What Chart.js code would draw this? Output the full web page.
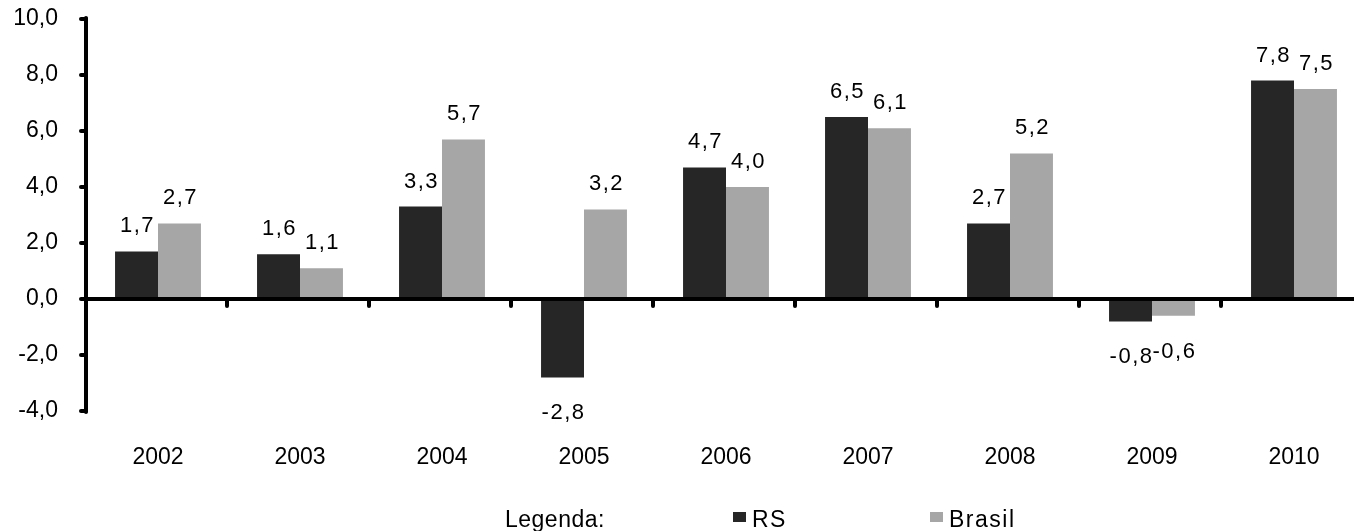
<!DOCTYPE html>
<html>
<head>
<meta charset="utf-8">
<script src="https://cdn.jsdelivr.net/npm/chart.js@4/dist/chart.umd.min.js"></script>
<style>
  html, body { margin: 0; padding: 0; background: #fff; overflow: hidden; }
  #wrap { width: 1372px; height: 531px; position: relative; }
</style>
</head>
<body>
<div id="wrap"><canvas id="grafico"></canvas></div>
<script>
// Variação anual (%) — RS e Brasil
const anos = ['2002', '2003', '2004', '2005', '2006', '2007', '2008', '2009', '2010'];
const rs = [1.7, 1.6, 3.3, -2.8, 4.7, 6.5, 2.7, -0.8, 7.8];
const brasil = [2.7, 1.1, 5.7, 3.2, 4.0, 6.1, 5.2, -0.6, 7.5];
const marcasY = [-4, -2, 0, 2, 4, 6, 8, 10];

const FONTE = '"Liberation Sans", Arial, sans-serif';
const fmt = v => v.toFixed(1).replace('.', ',');

// Eixos em preto espesso, com linha do zero e pequenas marcas
const eixos = {
  id: 'eixos',
  afterDatasetsDraw(chart) {
    const { ctx, chartArea, scales: { x, y } } = chart;
    const y0 = y.getPixelForValue(0);
    const xe = chartArea.left - 1;
    ctx.save();
    ctx.strokeStyle = '#000';
    ctx.lineCap = 'round';
    ctx.lineWidth = 4;
    // eixo vertical
    ctx.beginPath();
    ctx.moveTo(xe, y.getPixelForValue(marcasY[marcasY.length - 1]) - 1);
    ctx.lineTo(xe, y.getPixelForValue(marcasY[0]) + 1);
    ctx.stroke();
    // marcas do eixo vertical
    marcasY.forEach(v => {
      const py = y.getPixelForValue(v);
      ctx.beginPath();
      ctx.moveTo(xe - 5, py);
      ctx.lineTo(xe, py);
      ctx.stroke();
    });
    // linha do zero
    ctx.lineCap = 'butt';
    ctx.beginPath();
    ctx.moveTo(xe, y0);
    ctx.lineTo(chartArea.right, y0);
    ctx.stroke();
    // marcas entre categorias
    ctx.lineCap = 'round';
    for (let i = 0; i < anos.length - 1; i++) {
      const px = (x.getPixelForValue(i) + x.getPixelForValue(i + 1)) / 2 - 2;
      ctx.beginPath();
      ctx.moveTo(px, y0);
      ctx.lineTo(px, y0 + 7);
      ctx.stroke();
    }
    ctx.restore();
  }
};

// Rótulos de valor acima (ou abaixo) das barras
const rotulos = {
  id: 'rotulos',
  afterDatasetsDraw(chart) {
    const { ctx } = chart;
    ctx.save();
    ctx.font = '22px ' + FONTE;
    ctx.fillStyle = '#000';
    ctx.textAlign = 'center';
    ctx.textBaseline = 'alphabetic';
    try { ctx.letterSpacing = '1.5px'; } catch (e) {}
    chart.data.datasets.forEach((ds, di) => {
      chart.getDatasetMeta(di).data.forEach((bar, i) => {
        const v = ds.data[i];
        const yy = v >= 0 ? bar.y - 19 : bar.y + 42;
        ctx.fillText(fmt(v), bar.x + 1, yy);
      });
    });
    ctx.restore();
  }
};

// Legenda inferior
const legenda = {
  id: 'legenda',
  afterDraw(chart) {
    const { ctx } = chart;
    const base = 527;
    const itens = [{ x: 733 }, { x: 930 }];
    ctx.save();
    ctx.font = '23px ' + FONTE;
    ctx.fillStyle = '#000';
    ctx.textAlign = 'left';
    ctx.textBaseline = 'alphabetic';
    try { ctx.letterSpacing = '0.5px'; } catch (e) {}
    ctx.fillText('Legenda:', 505, base);
    try { ctx.letterSpacing = '1.5px'; } catch (e) {}
    chart.data.datasets.forEach((ds, i) => {
      const p = itens[i];
      ctx.fillStyle = ds.backgroundColor;
      ctx.fillRect(p.x, 512, 13, 10);
      ctx.fillStyle = '#000';
      ctx.fillText(ds.label, p.x + 19, base);
    });
    ctx.restore();
  }
};

new Chart(document.getElementById('grafico'), {
  type: 'bar',
  data: {
    labels: anos,
    datasets: [
      { label: 'RS', data: rs, backgroundColor: '#262626' },
      { label: 'Brasil', data: brasil, backgroundColor: '#a6a6a6' }
    ]
  },
  options: {
    responsive: true,
    maintainAspectRatio: false,
    animation: false,
    devicePixelRatio: 1,
    layout: { padding: { top: 19, right: 7, left: 0, bottom: 0 } },
    datasets: { bar: { categoryPercentage: 0.605, barPercentage: 1.0 } },
    plugins: { legend: { display: false }, tooltip: { enabled: false } },
    scales: {
      x: {
        grid: { display: false, drawTicks: true, tickLength: 33, tickColor: 'rgba(0,0,0,0)' },
        border: { display: false },
        ticks: { color: '#000', font: { family: FONTE, size: 23 }, padding: 0, maxRotation: 0 },
        afterFit(s) { s.height = 120; }
      },
      y: {
        min: -4, max: 10,
        grid: { display: false, drawTicks: true, tickLength: 27, tickColor: 'rgba(0,0,0,0)' },
        border: { display: false },
        afterBuildTicks(s) { s.ticks = marcasY.map(v => ({ value: v })); },
        ticks: { color: '#000', font: { family: FONTE, size: 23 }, padding: 2, callback: v => fmt(v) },
        afterFit(s) { s.width = 87; }
      }
    }
  },
  plugins: [eixos, rotulos, legenda]
});
</script>
</body>
</html>
